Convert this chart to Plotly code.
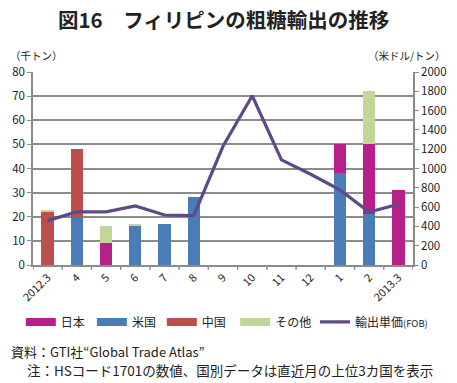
import plotly.graph_objects as go

categories = ["2012.3", "4", "5", "6", "7", "8", "9", "10", "11", "12", "1", "2", "2013.3"]
japan = [0, 0, 9, 0, 0, 0, 0, 0, 0, 0, 12, 29, 31]
usa = [0, 20, 0, 16, 17, 28, 0, 0, 0, 0, 38, 21, 0]
china = [22, 28, 0, 0, 0, 0, 0, 0, 0, 0, 0, 0, 0]
other = [1, 0, 7, 1, 0, 0, 0, 0, 0, 0, 0, 22, 0]
unit_price = [460, 550, 550, 612, 518, 512, 1230, 1754, 1090, 940, 778, 550, 630]

FONT = "Noto Sans CJK JP"
x = list(range(len(categories)))

C_JP, C_US, C_CN, C_OT, C_LN = "#B62088", "#4A7DB7", "#BA4F4B", "#C0D69B", "#5E4A87"

fig = go.Figure()
fig.add_trace(go.Bar(x=x, y=usa, name="米国", marker=dict(color=C_US, line=dict(width=0)), showlegend=False))
fig.add_trace(go.Bar(x=x, y=japan, name="日本", marker=dict(color=C_JP, line=dict(width=0)), showlegend=False))
fig.add_trace(go.Bar(x=x, y=china, name="中国", marker=dict(color=C_CN, line=dict(width=0)), showlegend=False))
fig.add_trace(go.Bar(x=x, y=other, name="その他", marker=dict(color=C_OT, line=dict(width=0)), showlegend=False))
fig.add_trace(go.Scatter(x=x, y=unit_price, name="輸出単価", mode="lines",
                         line=dict(color=C_LN, width=3.2), yaxis="y2", showlegend=False))

# legend entries, each in its own legend so that positions match the original
legend_items = [("日本", C_JP, 8, -0.032), ("米国", C_US, 8, 0.155), ("中国", C_CN, 8, 0.339),
                ("その他", C_OT, 8, 0.532),
                ("輸出単価<span style='font-size:9.5px'>(FOB)</span>", C_LN, 3.2, 0.742)]
legend_layout = {}
for i, (nm, col, w, lx) in enumerate(legend_items):
    key = "legend" if i == 0 else f"legend{i + 1}"
    fig.add_trace(go.Scatter(x=[None], y=[None], mode="lines", name=nm,
                             line=dict(color=col, width=w), showlegend=True, legend=key))
    legend_layout[key] = dict(orientation="h", x=lx, xanchor="left", y=-0.295, yanchor="middle",
                              font=dict(size=12), itemwidth=30, bgcolor="rgba(0,0,0,0)")

grid = "#8C8C8C"
fig.update_layout(
    width=457, height=383,
    barmode="stack", bargap=0.58,
    paper_bgcolor="white", plot_bgcolor="white",
    margin=dict(l=33, r=44, t=72, b=118, autoexpand=False),
    font=dict(family=FONT, size=11, color="#222"),
    showlegend=True,
    xaxis=dict(tickmode="array", tickvals=x, ticktext=categories, tickangle=-45,
               range=[-0.5, len(categories) - 0.5], showline=True, linecolor=grid, linewidth=1.5,
               ticks="", showgrid=False, tickfont=dict(size=11)),
    yaxis=dict(range=[0, 80], dtick=10, showgrid=True, gridcolor=grid, gridwidth=1.5,
               showline=True, linecolor=grid, linewidth=1.5, ticks="outside", ticklen=4,
               tickcolor=grid, zeroline=False, tickfont=dict(size=11.5)),
    yaxis2=dict(range=[0, 2000], dtick=200, overlaying="y", side="right", showgrid=False,
                showline=True, linecolor=grid, linewidth=1.5, ticks="outside", ticklen=4,
                tickcolor=grid, zeroline=False, tickfont=dict(size=11.5)),
    **legend_layout,
)

# category boundary tick marks on x axis
for i in range(len(categories) + 1):
    fig.add_shape(type="line", xref="x", yref="paper", x0=i - 0.5, x1=i - 0.5, y0=0, y1=-0.025,
                  line=dict(color=grid, width=1.5))

fig.add_annotation(text="図16　フィリピンの粗糖輸出の推移", xref="paper", yref="paper",
                   x=0.5, y=1, xanchor="center", yanchor="middle", yshift=53.5, showarrow=False,
                   font=dict(size=20.5, family=FONT, color="#222", weight="bold"))
fig.add_annotation(text="（千トン）", xref="paper", yref="paper", x=-0.066, y=1, xanchor="left",
                   yanchor="middle", yshift=16.5, showarrow=False, font=dict(size=10.5))
fig.add_annotation(text="（米ドル/トン）", xref="paper", yref="paper", x=1.092, y=1, xanchor="right",
                   yanchor="middle", yshift=16.5, showarrow=False, font=dict(size=10.5))
fig.add_annotation(text="資料：GTI社“Global Trade Atlas”", xref="paper", yref="paper",
                   x=-0.064, y=0, xanchor="left", yanchor="middle", yshift=-86, showarrow=False,
                   font=dict(size=13))
fig.add_annotation(text="注：HSコード1701の数値、国別データは直近月の上位3カ国を表示", xref="paper", yref="paper",
                   x=-0.02, y=0, xanchor="left", yanchor="middle", yshift=-105, showarrow=False,
                   font=dict(size=13.5))

# remove the default 8px page margin so the figure fills the window exactly
fig.write_html("out.html", config={"displayModeBar": False},
               post_script="document.body.style.margin='0';")
